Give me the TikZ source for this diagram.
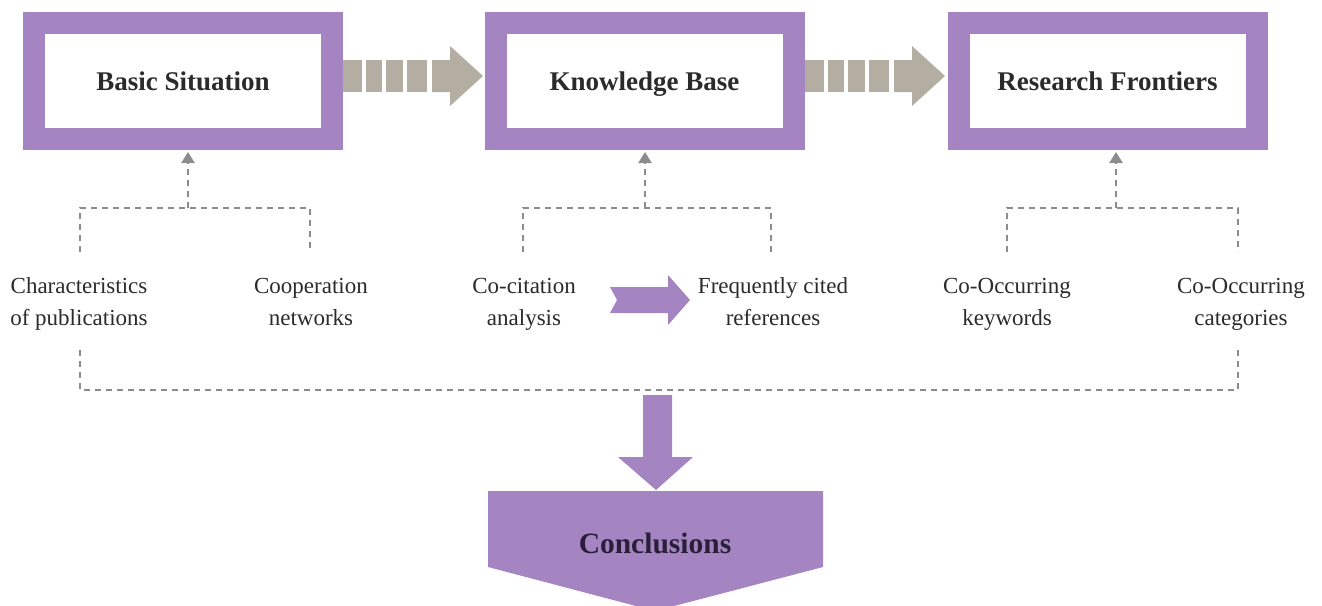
\documentclass[tikz,border=0pt]{standalone}
\usepackage{fontspec}
\setmainfont{Liberation Serif}
\usetikzlibrary{arrows.meta}
\definecolor{lav}{HTML}{A585C1}
\definecolor{greyarr}{HTML}{B4AEA2}
\definecolor{dashc}{HTML}{8C8C8C}
\definecolor{txt}{HTML}{2B2B2B}
\definecolor{conc}{HTML}{2A1F3A}
\tikzset{
  stagebox/.style={draw=lav,line width=22pt,fill=white,minimum width=298pt,minimum height=116pt,
    inner sep=0pt,font=\fontsize{27}{30}\selectfont\bfseries,text=txt,text height=18pt,text depth=0pt},
  lbl/.style={align=center,font=\fontsize{23}{32}\selectfont,text=txt,inner sep=0pt},
  dline/.style={draw=dashc,line width=2.4pt,dash pattern=on 6pt off 5pt},
  darrow/.style={dline,-{Triangle[width=13pt,length=11pt]},shorten >=2pt},
  greyfill/.style={fill=greyarr,draw=none},
  lavfill/.style={fill=lav,draw=none}
}
\newcommand\twolines[2]{\strut#1\\\strut#2}
\newcommand\stripedarrow[2]{%
  \begin{scope}[shift={(#1,#2)}]
    \fill[greyfill] (0,-16) rectangle (19,16);
    \fill[greyfill] (23,-16) rectangle (39,16);
    \fill[greyfill] (43,-16) rectangle (60,16);
    \fill[greyfill] (64,-16) rectangle (84,16);
    \fill[greyfill] (89,-16) -- (107,-16) -- (107,-30) -- (140,0) -- (107,30) -- (107,16) -- (89,16) -- cycle;
  \end{scope}}
\begin{document}
\begin{tikzpicture}[x=1pt,y=-1pt]
\useasboundingbox (0,0) rectangle (1322,605);
\clip (0,0) rectangle (1322,605);
% stage boxes
\node[stagebox] (bs) at (183,81) {Basic Situation};
\node[stagebox] (kb) at (644.5,81) {Knowledge Base};
\node[stagebox] (rf) at (1107.5,81) {Research Frontiers};
% striped arrows
\stripedarrow{343}{76}
\stripedarrow{805}{76}
% labels
\node[lbl] (char) at (79,303) {\twolines{Characteristics}{of publications}};
\node[lbl] (coop) at (311,303) {\twolines{Cooperation}{networks}};
\node[lbl] (cocit) at (524,303) {\twolines{Co-citation}{analysis}};
\node[lbl] (freq) at (773,303) {\twolines{Frequently cited}{references}};
\node[lbl] (cokw) at (1007,303) {\twolines{Co-Occurring}{keywords}};
\node[lbl] (cocat) at (1241,303) {\twolines{Co-Occurring}{categories}};
% tree 1
\coordinate (j1) at (188,208);
\coordinate (a1) at (80,252);
\coordinate (a2) at (310,252);
\draw[dline] (a1) |- (j1) -| (a2);
\draw[darrow] (j1) -- (j1 |- bs.south);
% tree 2
\coordinate (j2) at (645,208);
\coordinate (a3) at (523,252);
\coordinate (a4) at (771,252);
\draw[dline] (a3) |- (j2) -| (a4);
\draw[darrow] (j2) -- (j2 |- kb.south);
% tree 3
\coordinate (j3) at (1116,208);
\coordinate (a5) at (1007,252);
\coordinate (a6) at (1238,252);
\draw[dline] (a5) |- (j3) -| (a6);
\draw[darrow] (j3) -- (j3 |- rf.south);
% bottom collector
\coordinate (b1) at (80,350);
\coordinate (bl) at (80,390);
\coordinate (br) at (1238,390);
\coordinate (b2) at (1238,346);
\draw[dline] (b1) -- (bl) -- (br) -- (b2);
% purple notched arrow
\fill[lavfill] (610,287) -- (668,287) -- (668,275) -- (690,300) -- (668,325) -- (668,313) -- (610,313) -- (617,300) -- cycle;
% down arrow
\fill[lavfill] (643,395) -- (672,395) -- (672,457) -- (693,457) -- (656,490) -- (618,457) -- (643,457) -- cycle;
% conclusions pentagon
\fill[lavfill] (488,491) -- (823,491) -- (823,567) -- (655,611) -- (488,567) -- cycle;
\node[font=\fontsize{29.5}{32}\selectfont\bfseries,text=conc] (concl) at (655,543) {Conclusions};
\end{tikzpicture}
\end{document}
